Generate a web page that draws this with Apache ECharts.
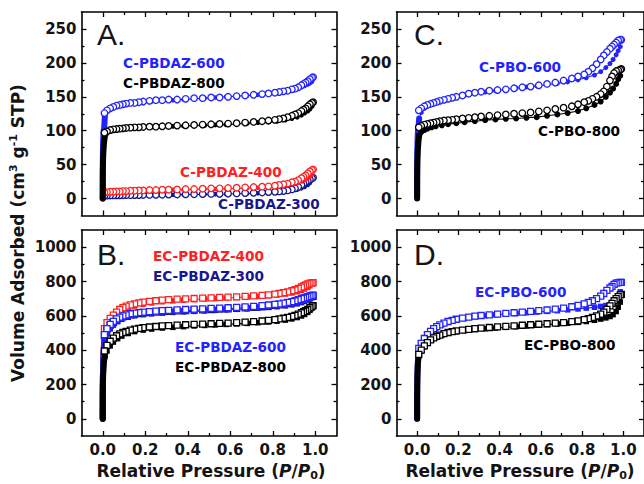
<!DOCTYPE html>
<html><head><meta charset="utf-8">
<script src="https://cdn.jsdelivr.net/npm/echarts@6/dist/echarts.min.js"></script>
<style>html,body{margin:0;padding:0;background:#fff}#c{width:644px;height:484px}</style>
</head><body><div id="c"></div><script>
// ---------- DATA ----------
const pAds = [0.00001, 0.00002, 0.00004, 0.00007, 0.0001, 0.0002, 0.0003, 0.0005, 0.0008, 0.0012, 0.0018, 0.0026, 0.0036, 0.005, 0.007,
  0.01, 0.02, 0.035, 0.05, 0.07, 0.09, 0.12, 0.15, 0.19, 0.23, 0.28, 0.33, 0.38, 0.43, 0.48, 0.53, 0.58, 0.63, 0.68, 0.73, 0.78, 0.82, 0.86, 0.89, 0.915, 0.935, 0.95, 0.965, 0.975, 0.985];
const pDes = [0.99, 0.985, 0.975, 0.965, 0.955, 0.945, 0.935, 0.92, 0.905, 0.89, 0.87, 0.85, 0.83, 0.81, 0.78, 0.75, 0.71, 0.67, 0.63, 0.59, 0.55, 0.51, 0.47, 0.43, 0.39, 0.35, 0.31, 0.28, 0.25, 0.22, 0.19, 0.17, 0.15, 0.13, 0.11, 0.095, 0.08, 0.065, 0.05, 0.035, 0.02, 0.008];

// Panel A
const cPBDAZ600Ads = [5,12,20,28,36,44,52,60,68,76,84,90,96,101,105, 122,128,132,134,136,138,139,141,142,143,144,145,146,147,148,149,150,151,152,153,154,156,158,160,162,164,166,168,170,172];
const cPBDAZ600Des = [179,178,176,173,171,169,167,164,162,161,159,158,157,156,155,154,153,152,151,150,149,149,148,148,147,146,146,145,145,144,143,142,141,141,140,139,138,137,135,133,130,126];
const cPBDAZ800Ads = [0,6,12,18,24,30,36,42,48,54,60,66,72,78,85, 92,96,99,101,102,103,104,104.5,105,105.5,106,106.5,107,107.5,108,108.5,109,110,111,112,113,114,116,118,120,123,126,129,132,136];
const cPBDAZ800Des = [142,141,139,136,133,131,129,126,124,122,120,118,117,116,115,114,113,112,111,110.5,110,109.5,109,108.5,108,107.5,107,106.5,106,106,105.5,105,105,104.5,104,103.5,103,102.5,102,101,99,97];
const cPBDAZ400Ads = [0,1,2,3,4,4.5,5,5.5,6,6.5,7,7.5,8,8,8.5, 9,9.5,10,10,10.5,11,11,11.5,12,12,12.5,13,13,13.5,14,14,14.5,15,15.5,16,17,18,19.5,21,23,25,27,30,32,35];
const cPBDAZ400Des = [43,42,40,37,34,32,30,27,25,24,22,21,20,19,18,17.5,17,16.5,16,15.5,15,15,14.5,14,14,13.5,13,13,12.5,12.5,12,12,11.5,11.5,11,11,10.5,10.5,10,10,9.5,9];
const cPBDAZ300Ads = [0,0.5,1,1.5,2,2.2,2.4,2.6,2.8,3,3.2,3.4,3.6,3.8,4, 4,4.2,4.4,4.5,4.6,4.7,4.8,5,5,5.2,5.4,5.6,5.8,6,6.2,6.4,6.6,7,7.4,7.8,8.4,9,10,11.5,13,15,17,20,23,27];
const cPBDAZ300Des = [31,30,28,26,24,22,20,17,15,13.5,12,11,10.5,10,9.5,9,8.5,8,7.6,7.3,7,6.8,6.6,6.4,6.2,6,5.8,5.6,5.5,5.4,5.3,5.2,5.1,5,5,4.9,4.8,4.7,4.6,4.5,4.4,4.2];

// Panel C
const cPBO600Ads = [3,10,18,26,34,42,50,58,66,74,82,90,97,103,107, 118,127,133,136,139,142,145,147,150,152,155,157,159,161,163,164.5,166,168,170,172,175,178,182,187,193,199,205,212,218,224];
const cPBO600Des = [234,234,233,230,227,224,221,216,211,205,198,192,187,183,180,177,174,171,169,167,165,164,162.5,161,160,159,157.5,156,154.5,152,150,148.5,147,145.5,144,142.5,141,139.5,138,136,133,130];
const cPBO800Ads = [0,6,12,18,24,30,36,42,48,54,60,66,72,78,86, 93,98,101,103,105,106.5,108,109.5,111,112.5,114,115.5,116.5,117.5,118,119,120,122,124,126,129,133,138,143,150,156,162,169,176,181];
const cPBO800Des = [191,190,189,188,185,180,174,165,158,154,150,147,144,142,139,136,134,132,130,128.5,127,126,125,124,123,122,121,120,119,118,117,116,115.5,115,114,113,112,111,110,109,107,105];

// Panel B
const ecPBDAZ400Ads = [0,30,60,90,120,150,180,210,240,270,300,340,380,420,460, 495,530,565,590,612,628,645,657,667,675,682,687,691,695,698,701,704,707,710,713,717,721,727,733,740,748,756,766,775,785];
const ecPBDAZ400Des = [793,792,790,786,780,774,768,760,752,746,740,735,731,727,722,719,716,713,711,709,707,705,703,701,699,697,694,691,688,684,680,675,670,664,656,648,637,622,604,585,560,525];
const ecPBDAZ300Ads = [0,30,60,90,120,150,180,210,240,270,300,330,360,395,430, 462,494,524,546,566,580,592,600,607,612,616,620,623,626,629,632,635,638,641,645,649,653,658,664,670,677,684,692,698,706];
const ecPBDAZ300Des = [714,713,710,706,702,698,694,688,682,677,672,668,664,661,657,653,649,646,643,641,639,637,635,633,631,629,626,624,622,619,616,613,610,606,600,594,586,576,562,544,519,484];
const ecPBDAZ600Ads = [0,30,60,90,120,150,180,210,240,270,300,330,360,400,440, 470,500,530,552,572,586,598,606,613,618,622,626,629,632,635,638,641,644,647,651,655,659,664,670,676,683,690,698,704,712];
const ecPBDAZ600Des = [720,719,716,712,708,704,700,694,688,683,678,674,670,667,663,659,655,652,649,647,645,643,641,639,637,635,632,630,628,625,622,619,616,612,606,600,592,582,568,550,525,490];
const ecPBDAZ800Ads = [0,25,50,75,100,125,150,175,200,225,250,275,300,325,345, 365,395,425,447,467,482,497,508,517,523,529,533,537,541,544,547,550,553,556,560,564,569,575,582,590,599,608,620,632,645];
const ecPBDAZ800Des = [660,656,647,638,630,624,618,610,603,597,591,586,582,578,574,570,566,563,560,558,556,554,552,550,548,546,543,541,538,535,531,527,523,517,510,503,495,484,470,452,428,395];

// Panel D
const ecPBO600Ads = [0,20,45,70,95,120,150,180,210,240,270,300,330,355,378, 395,425,460,485,510,528,548,562,575,585,594,601,606,610,614,618,622,626,630,635,640,645,650,655,660,665,673,690,712,740];
const ecPBO600Des = [795,795,793,790,783,772,762,748,730,715,700,688,678,670,661,653,645,639,634,630,626,622,618,614,610,606,602,598,593,587,580,574,567,558,547,537,525,510,490,468,440,410];
const ecPBO800Ads = [0,20,45,70,95,120,150,180,210,240,270,295,320,340,355, 370,395,420,440,460,474,488,498,507,514,520,525,529,533,537,541,545,549,553,557,562,567,574,581,588,596,607,625,650,680];
const ecPBO800Des = [725,722,712,700,688,673,658,638,622,610,600,591,584,578,571,566,561,557,554,551,548,545,542,539,536,532,528,525,521,517,512,508,503,496,488,481,472,460,444,425,400,375];

// Ticks
const xMajor = [0, 0.2, 0.4, 0.6, 0.8, 1.0];
const xMinor = [0.1, 0.3, 0.5, 0.7, 0.9];
const ySmallMajor = [0, 50, 100, 150, 200, 250];
const ySmallMinor = [25, 75, 125, 175, 225];
const yLargeMajor = [0, 200, 400, 600, 800, 1000];
const yLargeMinor = [100, 300, 500, 700, 900];

// Text
const panelLetters = ['A.', 'C.', 'B.', 'D.'];
const seriesNames = ['C-PBDAZ-600','C-PBDAZ-800','C-PBDAZ-400','C-PBDAZ-300','C-PBO-600','C-PBO-800',
  'EC-PBDAZ-400','EC-PBDAZ-300','EC-PBDAZ-600','EC-PBDAZ-800','EC-PBO-600','EC-PBO-800'];

// ---------- STYLE / LAYOUT ----------
const FONT = 'DejaVu Sans';
const BLUE = '#2323ff', RED = '#ff2121', NAVY = '#17178e', BLACK = '#000000', TXT = '#141414';
const LOW_N = 16; // number of low-pressure points forming the vertical micropore step

const panels = [
  {left: 81.5, top: 12, width: 255, height: 203.5, yMin: -25, yMax: 275, major: ySmallMajor, minor: ySmallMinor, xLabels: false},
  {left: 396.5, top: 12, width: 255, height: 203.5, yMin: -25, yMax: 275, major: ySmallMajor, minor: ySmallMinor, xLabels: false},
  {left: 81.5, top: 230, width: 255, height: 206, yMin: -100, yMax: 1100, major: yLargeMajor, minor: yLargeMinor, xLabels: true},
  {left: 396.5, top: 230, width: 255, height: 206, yMin: -100, yMax: 1100, major: yLargeMajor, minor: yLargeMinor, xLabels: true}
];

const grid = [], xAxis = [], yAxis = [];
panels.forEach((p, i) => {
  grid.push({left: p.left, top: p.top, width: p.width, height: p.height, show: false});
  const mk = (pos, vals, len, showLine, labels, isX) => ({
    type: 'value', gridIndex: i, position: pos,
    min: isX ? -0.1 : p.yMin, max: isX ? 1.1 : p.yMax,
    axisLine: {show: showLine, onZero: false, lineStyle: {color: '#000', width: 1.6}},
    axisTick: {show: true, inside: true, length: len, customValues: vals, lineStyle: {color: '#000', width: 1.3}},
    axisLabel: labels ? {
      show: true, customValues: vals, margin: isX ? 6 : 5,
      formatter: v => isX ? Number(v).toFixed(1) : String(Math.round(v)),
      fontFamily: FONT, fontWeight: 'bold', fontSize: 15, color: TXT
    } : {show: false},
    splitLine: {show: false}, minorTick: {show: false}, silent: true
  });
  xAxis.push(mk('bottom', xMajor, 5, true, p.xLabels, true), mk('bottom', xMinor, 3, false, false, true),
             mk('top', xMajor, 5, true, false, true), mk('top', xMinor, 3, false, false, true));
  yAxis.push(mk('left', p.major, 5, true, true, false), mk('left', p.minor, 3, false, false, false),
             mk('right', p.major, 5, true, false, false), mk('right', p.minor, 3, false, false, false));
});

const pairs = (p, v) => p.map((x, k) => [x, v[k]]);
const series = [];
let zc = 10;
function addSample(panel, adsVals, desVals, color, sym, adsSize, desSize) {
  const ax = {xAxisIndex: panel * 4, yAxisIndex: panel * 4, silent: true, animation: false};
  // dense low-pressure points merge into a solid vertical step
  series.push(Object.assign({
    type: 'line', z: zc++, data: pairs(pAds.slice(0, LOW_N), adsVals.slice(0, LOW_N)),
    symbol: 'none', lineStyle: {color: color, width: 6, cap: 'round', join: 'round'}
  }, ax));
  series.push(Object.assign({
    type: 'line', z: zc++, data: pairs(pAds, adsVals),
    symbol: v => (v[0] < 0.009 ? 'none' : sym), symbolSize: adsSize,
    showSymbol: true, showAllSymbol: true,
    itemStyle: {color: color, borderColor: color, borderWidth: 0, opacity: 1},
    lineStyle: {color: color, width: 1.1}
  }, ax));
  series.push(Object.assign({
    type: 'scatter', z: zc++, data: pairs(pDes, desVals), symbol: sym, symbolSize: desSize,
    itemStyle: {color: '#ffffff', borderColor: color, borderWidth: 1.3, opacity: 1}
  }, ax));
}
// Panel A
addSample(0, cPBDAZ300Ads, cPBDAZ300Des, NAVY, 'circle', 4.5, 6.5);
addSample(0, cPBDAZ400Ads, cPBDAZ400Des, RED, 'circle', 4.5, 6.5);
addSample(0, cPBDAZ600Ads, cPBDAZ600Des, BLUE, 'circle', 4.5, 6.5);
addSample(0, cPBDAZ800Ads, cPBDAZ800Des, BLACK, 'circle', 5, 6.5);
// Panel C
addSample(1, cPBO600Ads, cPBO600Des, BLUE, 'circle', 5, 6.5);
addSample(1, cPBO800Ads, cPBO800Des, BLACK, 'circle', 6, 6.5);
// Panel B
addSample(2, ecPBDAZ400Ads, ecPBDAZ400Des, RED, 'rect', 5.5, 6);
addSample(2, ecPBDAZ300Ads, ecPBDAZ300Des, NAVY, 'rect', 5.5, 6);
addSample(2, ecPBDAZ600Ads, ecPBDAZ600Des, BLUE, 'rect', 5.5, 6);
addSample(2, ecPBDAZ800Ads, ecPBDAZ800Des, BLACK, 'rect', 5.5, 6);
// Panel D
addSample(3, ecPBO600Ads, ecPBO600Des, BLUE, 'rect', 5.5, 6);
addSample(3, ecPBO800Ads, ecPBO800Des, BLACK, 'rect', 5.5, 6);

const labelPos = [
  {x: 123, y: 62.5, c: BLUE}, {x: 123, y: 83, c: BLACK}, {x: 180, y: 172, c: RED}, {x: 218, y: 204, c: NAVY},
  {x: 479, y: 66.5, c: BLUE}, {x: 538, y: 131, c: BLACK},
  {x: 153, y: 256, c: RED}, {x: 153, y: 276, c: NAVY}, {x: 175, y: 347, c: BLUE}, {x: 175, y: 367, c: BLACK},
  {x: 475, y: 291.5, c: BLUE}, {x: 524, y: 345, c: BLACK}
];
const letterPos = [{x: 97, y: 34}, {x: 414, y: 34}, {x: 97, y: 254}, {x: 414, y: 254}];

const graphic = [];
seriesNames.forEach((t, k) => {
  const lp = labelPos[k];
  graphic.push({type: 'text', x: lp.x, y: lp.y, silent: true, z: 100,
    style: {text: t, fill: lp.c, fontFamily: FONT, fontWeight: 'bold', fontSize: 13.6, align: 'left', verticalAlign: 'middle'}});
});
panelLetters.forEach((t, k) => {
  const lp = letterPos[k];
  graphic.push({type: 'text', x: lp.x, y: lp.y, silent: true, z: 100,
    style: {text: t, fill: TXT, fontFamily: 'Liberation Sans', fontWeight: 'normal', fontSize: 30, align: 'left', verticalAlign: 'middle'}});
});
const richBase = {
  a: {fontFamily: FONT, fontWeight: 'bold', fontSize: 17, fill: TXT, color: TXT, lineHeight: 20},
  i: {fontFamily: FONT, fontWeight: 'bold', fontStyle: 'italic', fontSize: 17, fill: TXT, color: TXT, lineHeight: 20},
  s: {fontFamily: FONT, fontWeight: 'bold', fontSize: 11, fill: TXT, color: TXT, lineHeight: 12, verticalAlign: 'top'},
  b: {fontFamily: FONT, fontWeight: 'bold', fontSize: 11, fill: TXT, color: TXT, lineHeight: 11, verticalAlign: 'bottom'}
};
graphic.push({type: 'text', x: 18, y: 233, rotation: Math.PI / 2, silent: true,
  style: {text: '{a|Volume Adsorbed (cm}{s|3}{a| g}{s|-1}{a| STP)}', rich: richBase, align: 'center', verticalAlign: 'middle'}});
[211, 520].forEach(cx => {
  graphic.push({type: 'text', x: cx, y: 471, silent: true,
    style: {text: '{a|Relative Pressure (}{i|P}{a|/}{i|P}{b|0}{a|)}', rich: richBase, align: 'center', verticalAlign: 'middle'}});
});

const chart = echarts.init(document.getElementById('c'), null, {renderer: 'svg', width: 644, height: 484});
chart.setOption({
  animation: false, backgroundColor: '#ffffff',
  grid: grid, xAxis: xAxis, yAxis: yAxis, series: series, graphic: graphic
});
</script></body></html>
